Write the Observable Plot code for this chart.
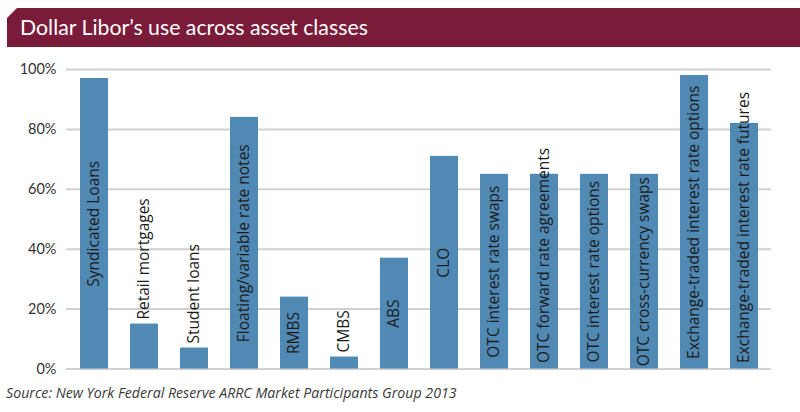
<!DOCTYPE html>
<html>
<head>
<meta charset="utf-8">
<script src="https://cdn.jsdelivr.net/npm/d3@7"></script>
<script src="https://cdn.jsdelivr.net/npm/@observablehq/plot@0.6"></script>
<style>
  html, body { margin: 0; padding: 0; background: #fff; }
  #wrap { position: relative; width: 800px; height: 412px; overflow: hidden; }
  #banner {
    position: absolute; left: 7px; top: 8px; width: 793px; height: 39px;
    background: #7a1b3a;
    clip-path: polygon(10px 0, 100% 0, 100% 100%, 0 100%, 0 10px);
  }
  #title {
    position: absolute; left: 20px; top: 8px; height: 39px; line-height: 39px;
    font-family: Lato, "Open Sans", sans-serif; font-size: 21.3px; color: #fff;
  }
  #chart { position: absolute; left: 0; top: 0; }
  #source {
    position: absolute; left: 6px; top: 383px;
    font-family: "Open Sans", sans-serif; font-style: italic; font-size: 14.2px; color: #3a3a3a;
  }
</style>
</head>
<body>
<div id="wrap">
  <div id="chart"></div>
  <div id="banner"></div>
  <div id="title">Dollar Libor’s use across asset classes</div>
  <div id="source">Source: New York Federal Reserve ARRC Market Participants Group 2013</div>
</div>
<script>
const categories = [
  "Syndicated Loans", "Retail mortgages", "Student loans", "Floating/variable rate notes",
  "RMBS", "CMBS", "ABS", "CLO", "OTC interest rate swaps", "OTC forward rate agreements",
  "OTC interest rate options", "OTC cross-currency swaps",
  "Exchange-traded interest rate options", "Exchange-traded interest rate futures"
];
const values = [97, 15, 7, 84, 24, 4, 37, 71, 65, 65, 65, 65, 98, 82];
const yTicks = [0, 20, 40, 60, 80, 100];

const W = 800, H = 412;
const mTop = 69, mBottom = 43.5, mLeft = 66, mRight = 29;
const labelSize = 15.5;
const labelFont = labelSize + 'px "Open Sans"';

const data = categories.map((c, i) => ({ category: c, value: values[i] }));

// measure label widths to decide placement (inside centered vs. from the bottom / above bar)
const ctx = document.createElement("canvas").getContext("2d");
ctx.font = labelFont;
const pxPerUnit = (H - mTop - mBottom) / 100;
data.forEach(d => {
  const len = ctx.measureText(d.category).width;
  d.fits = len + 4 < d.value * pxPerUnit;
  d.labelY = d.fits ? d.value / 2 : (d.value < 20 ? d.value + 1.5 : 2);
});

const chart = Plot.plot({
  width: W,
  height: H,
  marginTop: mTop,
  marginBottom: mBottom,
  marginLeft: mLeft,
  marginRight: mRight,
  style: { fontFamily: "Lato, 'Open Sans', sans-serif", fontSize: "14.5px", color: "#333" },
  x: { domain: categories, paddingInner: 0.444, paddingOuter: 0.222, axis: null },
  y: { domain: [0, 100], ticks: yTicks, tickFormat: d => d + "%", tickSize: 0, tickPadding: 10, label: null },
  marks: [
    Plot.ruleY(yTicks, { stroke: "#d0d0d0", strokeWidth: 2 }),
    Plot.barY(data, { x: "category", y: "value", fill: "#5089b4" }),
    Plot.text(data.filter(d => d.fits), {
      x: "category", y: "labelY", text: "category", rotate: -90,
      textAnchor: "middle", fill: "#1c1c1c", fontSize: labelSize, fontFamily: "Open Sans"
    }),
    Plot.text(data.filter(d => !d.fits), {
      x: "category", y: "labelY", text: "category", rotate: -90,
      textAnchor: "start", fill: "#1c1c1c", fontSize: labelSize, fontFamily: "Open Sans"
    }),
    Plot.axisY({ ticks: yTicks, tickFormat: d => d + "%", tickSize: 0, tickPadding: 10, label: null, fontSize: 14.5 })
  ]
});
document.getElementById("chart").appendChild(chart);
</script>
</body>
</html>
